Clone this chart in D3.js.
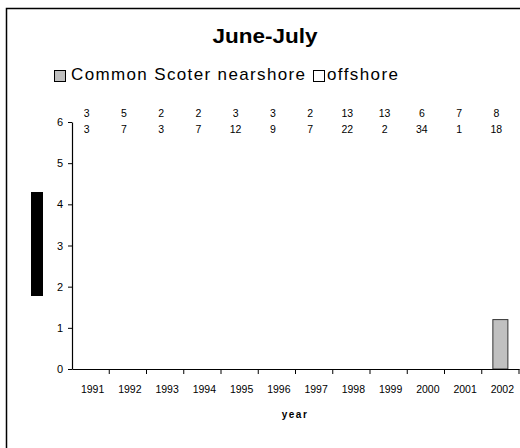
<!DOCTYPE html>
<html><head><meta charset="utf-8">
<script src="https://cdn.jsdelivr.net/npm/d3@7"></script>
<style>body{margin:0;background:#fff}svg{display:block;font-family:"Liberation Sans",Arial,sans-serif}</style>
</head><body><svg id="c" width="520" height="448"></svg>
<script>
const years = ["1991","1992","1993","1994","1995","1996","1997","1998","1999","2000","2001","2002"];
const nearshore = [0,0,0,0,0,0,0,0,0,0,0,1.2];
const offshore  = [0,0,0,0,0,0,0,0,0,0,0,0];
const countsTop    = ["3","5","2","2","3","3","2","13","13","6","7","8"];
const countsBottom = ["3","7","3","7","12","9","7","22","2","34","1","18"];
const yTicks = [0,1,2,3,4,5,6];
const seriesNames = ["Common Scoter nearshore","offshore"];

const svg = d3.select("#c");
svg.append("rect").attr("x",6.5).attr("y",8.5).attr("width",530).attr("height",460)
  .attr("fill","#fff").attr("stroke","#000").attr("stroke-width",1.5);

const x = d3.scaleBand().domain(years).range([72,519]).paddingInner(0.57).paddingOuter(0.285);
const xb = d3.scaleBand().domain(years).range([72,519]);
const y = d3.scaleLinear().domain([0,6]).range([369,122]);

// title
svg.append("text").attr("x",265).attr("y",43).attr("text-anchor","middle")
  .attr("font-size",20).attr("font-weight","bold").attr("textLength",105).attr("lengthAdjust","spacingAndGlyphs").text("June-July");

// legend
const leg = [{name:seriesNames[0],fill:"#c0c0c0",sx:54,tx:71,tw:234},{name:seriesNames[1],fill:"#fff",sx:313,tx:327,tw:71}];
leg.forEach(l=>{
  svg.append("rect").attr("x",l.sx+0.5).attr("y",70.5).attr("width",11).attr("height",11)
    .attr("fill",l.fill).attr("stroke","#000").attr("stroke-width",1);
  svg.append("text").attr("x",l.tx).attr("y",80).attr("font-size",17)
    .attr("textLength",l.tw).attr("lengthAdjust","spacing").text(l.name);
});

// black bar artifact (y-axis title)
svg.append("rect").attr("x",31).attr("y",192).attr("width",12).attr("height",104).attr("fill","#000");

// bars (stacked)
const stack = years.map((yr,i)=>({yr,n:nearshore[i],o:offshore[i]}));
svg.append("g").selectAll("rect.n").data(stack.filter(d=>d.n>0)).join("rect")
  .attr("x",d=>x(d.yr)+0.5).attr("width",x.bandwidth()-1)
  .attr("y",d=>y(d.n)).attr("height",d=>y(0)-y(d.n))
  .attr("fill","#c0c0c0").attr("stroke","#333").attr("stroke-width",1);
svg.append("g").selectAll("rect.o").data(stack.filter(d=>d.o>0)).join("rect")
  .attr("x",d=>x(d.yr)+0.5).attr("width",x.bandwidth()-1)
  .attr("y",d=>y(d.n+d.o)).attr("height",d=>y(d.n)-y(d.n+d.o))
  .attr("fill","#fff").attr("stroke","#333").attr("stroke-width",1);

// y axis
const ya = svg.append("g").attr("transform","translate(72,0)")
  .call(d3.axisLeft(y).tickValues(yTicks).tickFormat(d3.format("d")).tickSize(4).tickSizeOuter(0).tickPadding(5));
ya.select(".domain").attr("stroke","#000").attr("stroke-width",1.2);
ya.selectAll("text").attr("font-size",11).attr("font-family","Liberation Sans, Arial, sans-serif").attr("fill","#000");

// x axis
const xa = svg.append("g").attr("transform","translate(0,369)")
  .call(d3.axisBottom(xb).tickSize(0).tickPadding(0).tickFormat(""));
xa.select(".domain").attr("stroke","#000").attr("stroke-width",1.2);
xa.selectAll(".tick").remove();
svg.append("g").selectAll("line").data(years).join("line")
  .attr("x1",d=>xb(d)+xb.bandwidth()).attr("x2",d=>xb(d)+xb.bandwidth())
  .attr("y1",369).attr("y2",374).attr("stroke","#000").attr("stroke-width",1);
svg.append("g").selectAll("text").data(years).join("text")
  .attr("x",d=>xb(d)+xb.bandwidth()/2+2).attr("y",393).attr("text-anchor","middle")
  .attr("font-size",10.5).text(d=>d);

// count labels
svg.append("g").selectAll("text").data(years).join("text")
  .attr("x",d=>xb(d)+xb.bandwidth()/2-4).attr("y",117).attr("text-anchor","middle")
  .attr("font-size",10.5).text((d,i)=>countsTop[i]);
svg.append("g").selectAll("text").data(years).join("text")
  .attr("x",d=>xb(d)+xb.bandwidth()/2-4).attr("y",133).attr("text-anchor","middle")
  .attr("font-size",10.5).text((d,i)=>countsBottom[i]);

// x title
svg.append("text").attr("x",295).attr("y",418).attr("text-anchor","middle")
  .attr("font-size",10).attr("font-weight","bold").attr("letter-spacing",1.5).text("year");
</script></body></html>
